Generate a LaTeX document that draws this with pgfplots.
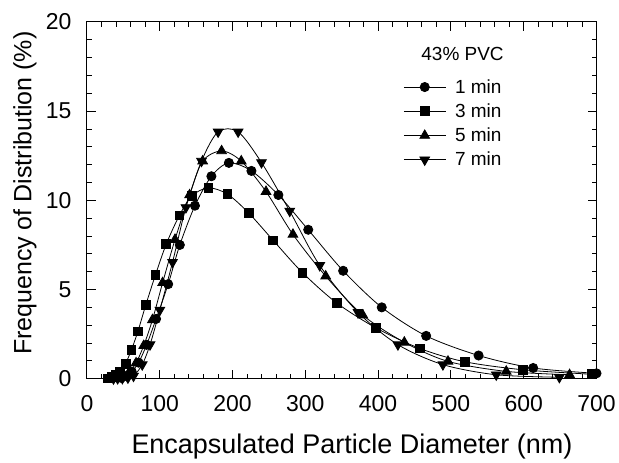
\documentclass[border=0pt]{standalone}
\usepackage{pgfplots}
\pgfplotsset{compat=1.18}
\usepackage{fontspec}
\setmainfont{Liberation Sans}
\begin{document}
\begin{tikzpicture}
\path (-87pt,-80pt) rectangle (532pt,379pt);
\begin{axis}[
  at={(0pt,0pt)}, anchor=south west,
  scale only axis, width=510pt, height=357pt,
  xmin=0, xmax=700, ymin=0, ymax=20,
  xtick={0,100,...,700}, ytick={0,5,...,20},
  minor x tick num=4, minor y tick num=4,
  xtick pos=both, ytick pos=both, tick align=inside,
  tickwidth=9pt, subtickwidth=5pt,
  clip=false,
  every axis/.append style={line width=1pt},
  major tick style={black, line width=1pt},
  minor tick style={black, line width=0.8pt},
  /pgf/number format/assume math mode=true,
  tick label style={font=\fontsize{23}{27}\selectfont},
  xticklabel style={anchor=center, yshift=-25pt},
  yticklabel style={anchor=east, inner sep=0pt, xshift=-15pt},
  xlabel={Encapsulated Particle Diameter (nm)},
  ylabel={Frequency of Distribution (\%)},
  xlabel style={font=\fontsize{27}{31}\selectfont, at={(axis description cs:0.52,-0.1905)}, anchor=center},
  ylabel style={font=\fontsize{25}{29}\selectfont, at={(axis description cs:-0.1216,0.52)}, anchor=center},
  legend style={at={(axis cs:434,16.92)}, anchor=north west, draw=none, fill=none,
    font=\fontsize{19}{22}\selectfont, row sep=5pt, column sep=7pt, inner sep=0pt},
  legend cell align=left,
  legend image code/.code={\draw[mark repeat=2,mark phase=2,#1] plot coordinates {(0pt,0pt) (21pt,0pt) (42pt,0pt)};},
]
\addplot[black, line width=0.8pt, smooth, tension=0.5, mark=*, mark options={fill=black, solid}, mark size=4.6pt] coordinates {
(47,0.05)(54,0.15)(61.5,0.4)(71,0.9)(82,1.9)(95,3.35)(111.6,5.3)(127.6,7.5)(148.4,9.7)(171,11.35)(195,12.1)(226,11.65)(263,10.3)(304,8.35)(352,6.05)(405,4.0)(466,2.4)(538,1.3)(613,0.6)(700,0.3)
};
\addlegendentry{1 min}
\addplot[black, line width=0.8pt, smooth, tension=0.5, mark=square*, mark options={fill=black, solid}, mark size=4.4pt] coordinates {
(29,0.02)(34,0.1)(39,0.2)(45,0.4)(53,0.85)(61,1.6)(70,2.65)(81,4.15)(94,5.8)(109,7.55)(127,9.15)(144,10.25)(167,10.7)(193,10.35)(222,9.3)(256,7.75)(296,5.95)(343,4.25)(397,2.85)(457,1.7)(519,0.95)(599,0.5)(693,0.25)
};
\addlegendentry{3 min}
\addplot[black, line width=0.8pt, smooth, tension=0.5, mark=triangle*, mark options={fill=black, solid}, mark size=5.6pt] coordinates {
(44,0.05)(50.6,0.15)(58.5,0.4)(67.5,0.88)(78,1.85)(90,3.3)(104,5.38)(121,7.8)(141,10.3)(159,12.2)(185,12.77)(212,12.2)(246,10.49)(283,8.09)(328,5.75)(379,3.56)(436,2.04)(496,0.97)(576,0.41)(663,0.22)
};
\addlegendentry{5 min}
\addplot[black, line width=0.8pt, smooth, tension=0.5, mark=triangle*, mark options={fill=black, solid, rotate=180}, mark size=5.6pt] coordinates {
(36.5,0.0)(42.2,0.01)(48.7,0.02)(56.3,0.05)(64,0.15)(76,0.79)(86.7,1.91)(100.2,3.85)(117.6,6.53)(136,9.6)(157.4,12.2)(180.2,13.84)(207.7,13.84)(239.8,12.12)(278.6,9.4)(319.8,6.35)(372.4,3.72)(427.2,1.91)(489,0.79)(562.3,0.22)(649,0.08)
};
\addlegendentry{7 min}
\node[font=\fontsize{19}{22}\selectfont] at (axis cs:516,18.2) {43\% PVC};
\end{axis}
\end{tikzpicture}
\end{document}
